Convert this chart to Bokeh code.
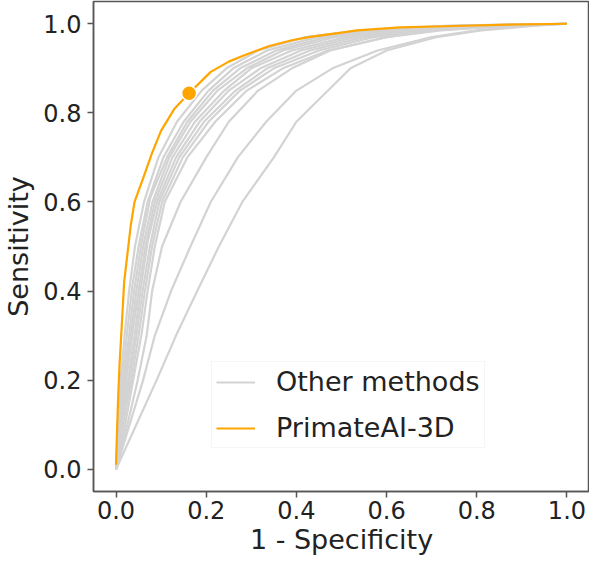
from bokeh.plotting import figure
from bokeh.models import Range1d, Legend, LegendItem, FixedTicker, NumeralTickFormatter
from bokeh.embed import file_html
from bokeh.resources import INLINE

# ---------------- data ----------------
tick_values = [0.0, 0.2, 0.4, 0.6, 0.8, 1.0]
x_label = "1 - Specificity"
y_label = "Sensitivity"

# Other methods: ROC curves (false positive rate, true positive rate)
other_fpr = [
    [0, .004, .010, .019, .029, .042, .062, .094, .135, .190, .245, .315, .420, .540, .740, 1.0],
    [0, .006, .014, .025, .036, .050, .070, .105, .150, .205, .260, .335, .445, .560, .760, 1.0],
    [0, .008, .018, .029, .040, .055, .076, .113, .158, .215, .275, .355, .465, .585, .780, 1.0],
    [0, .009, .020, .033, .045, .060, .081, .118, .165, .225, .290, .370, .485, .610, .800, 1.0],
    [0, .011, .024, .037, .050, .065, .086, .125, .175, .240, .300, .390, .510, .630, .820, 1.0],
    [0, .013, .027, .041, .054, .070, .091, .133, .185, .250, .320, .410, .530, .650, .840, 1.0],
    [0, .015, .030, .045, .059, .075, .096, .140, .195, .265, .335, .430, .550, .670, .850, 1.0],
    [0, .017, .034, .050, .064, .080, .102, .148, .205, .275, .350, .450, .570, .700, .870, 1.0],
    [0, .020, .038, .056, .070, .086, .108, .158, .220, .290, .370, .470, .600, .720, .880, 1.0],
    [0, .025, .048, .068, .080, .102, .143, .200, .250, .315, .390, .475, .600, .700, .880, 1.0],
    [0, .030, .060, .086, .122, .165, .210, .270, .333, .400, .480, .580, .700, .800, .920, 1.0],
    [0, .045, .090, .133, .180, .228, .280, .350, .400, .470, .520, .600, .710, .810, .930, 1.0],
]
other_tpr = [
    [0, .10, .20, .30, .40, .50, .60, .70, .78, .85, .90, .94, .97, .985, .996, 1.0],
    [0, .10, .20, .31, .41, .50, .60, .70, .78, .85, .90, .94, .97, .985, .996, 1.0],
    [0, .11, .21, .30, .40, .50, .61, .70, .78, .85, .90, .94, .97, .985, .996, 1.0],
    [0, .10, .20, .30, .40, .50, .60, .70, .78, .85, .90, .94, .97, .985, .996, 1.0],
    [0, .10, .21, .31, .40, .50, .60, .70, .78, .85, .90, .94, .97, .985, .996, 1.0],
    [0, .10, .20, .30, .40, .51, .60, .70, .78, .85, .90, .94, .97, .985, .996, 1.0],
    [0, .10, .20, .30, .40, .50, .60, .70, .78, .85, .90, .94, .97, .985, .996, 1.0],
    [0, .11, .20, .30, .40, .50, .60, .70, .78, .85, .90, .94, .97, .985, .996, 1.0],
    [0, .10, .20, .30, .40, .50, .60, .70, .78, .85, .90, .94, .97, .985, .996, 1.0],
    [0, .10, .20, .30, .40, .50, .60, .70, .78, .85, .90, .94, .97, .985, .996, 1.0],
    [0, .10, .20, .30, .40, .50, .60, .70, .78, .85, .90, .94, .97, .985, .996, 1.0],
    [0, .10, .20, .30, .40, .50, .60, .70, .78, .85, .90, .94, .97, .985, .996, 1.0],
]

# PrimateAI-3D ROC curve
primate_fpr = [0, .002, .005, .008, .012, .018, .026, .033, .041, .059, .08, .10, .13, .162,
               .21, .25, .286, .34, .39, .427, .50, .535, .63, .75, .87, 1.0]
primate_tpr = [.01, .08, .17, .24, .31, .42, .49, .55, .60, .65, .71, .76, .81, .844,
               .892, .915, .93, .95, .963, .970, .98, .985, .992, .995, .998, 1.0]

# operating point
op_fpr = [0.162]
op_tpr = [0.844]

GRAY = "#d3d3d3"
ORANGE = "#ffa500"
TEXT = "#222222"
FRAME = "#555555"
FONT = "DejaVu Sans"

p = figure(width=589, height=557, output_backend="svg", toolbar_location=None,
           x_range=Range1d(-0.05, 1.05), y_range=Range1d(-0.05, 1.05),
           min_border_left=86, min_border_right=0, min_border_top=1, min_border_bottom=40)
p.grid.visible = False
p.outline_line_color = FRAME
p.outline_line_width = 1.5
p.background_fill_color = "white"
p.border_fill_color = "white"

gray_r = p.multi_line(xs=other_fpr, ys=other_tpr, line_color=GRAY, line_width=2.2)
orange_r = p.line(x=primate_fpr, y=primate_tpr, line_color=ORANGE, line_width=2.2)
p.scatter(x=op_fpr, y=op_tpr, size=15, fill_color=ORANGE, line_color="white", line_width=1.5)

for ax in (p.xaxis[0], p.yaxis[0]):
    ax.ticker = FixedTicker(ticks=tick_values)
    ax.formatter = NumeralTickFormatter(format="0.0")
    ax.major_label_text_font = FONT
    ax.major_label_text_font_size = "24px"
    ax.major_label_text_color = TEXT
    ax.axis_label_text_font = FONT
    ax.axis_label_text_font_size = "27px"
    ax.axis_label_text_font_style = "normal"
    ax.axis_label_text_color = TEXT
    ax.axis_line_color = FRAME
    ax.axis_line_width = 1.5
    ax.major_tick_line_color = FRAME
    ax.major_tick_line_width = 1.5
    ax.major_tick_in = 0
    ax.major_tick_out = 6
    ax.minor_tick_line_color = None

p.xaxis.major_label_standoff = 3
p.xaxis.axis_label_standoff = 2
p.yaxis.major_label_standoff = 6
p.yaxis.axis_label_standoff = 6
p.xaxis.axis_label = x_label
p.yaxis.axis_label = y_label

legend = Legend(items=[LegendItem(label="Other methods", renderers=[gray_r]),
                       LegendItem(label="PrimateAI-3D", renderers=[orange_r])],
                location=(118, 43))
legend.border_line_color = "#ececec"
legend.border_line_width = 1
legend.background_fill_color = "white"
legend.background_fill_alpha = 0.8
legend.padding = 4
legend.spacing = 15
legend.margin = 0
legend.glyph_width = 39
legend.glyph_height = 30
legend.label_standoff = 21
legend.label_text_font = FONT
legend.label_text_font_size = "27px"
legend.label_text_color = TEXT
legend.label_height = 30
p.add_layout(legend)

open("out.html", "w").write(file_html(p, INLINE))
